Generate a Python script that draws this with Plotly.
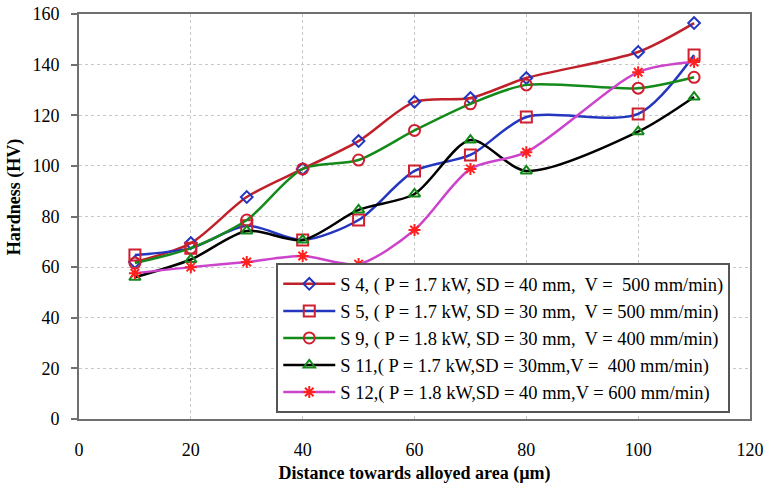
import plotly.graph_objects as go

distance = [10, 20, 30, 40, 50, 60, 70, 80, 100, 110]
s4 = [62, 69.5, 87.7, 98.8, 109.8, 125.3, 126.8, 134.7, 145, 156.4]
s5 = [64.8, 67.5, 76.3, 70.7, 78.6, 98, 104.3, 119.3, 120.5, 143.8]
s9 = [61.6, 67.5, 78.6, 98.8, 102.3, 114, 124.5, 132, 130.7, 135]
s11 = [56, 63, 74.3, 70.7, 82.6, 88.9, 110.2, 98, 113.5, 127.2]
s12 = [57.6, 60, 62, 64.4, 61.2, 74.7, 98.8, 105.4, 137, 141]

names = [
    "S 4, ( P = 1.7 kW, SD = 40 mm,  V =  500 mm/min)",
    "S 5, ( P = 1.7 kW, SD = 30 mm,  V = 500 mm/min)",
    "S 9, ( P = 1.8 kW, SD = 30 mm,  V = 400 mm/min)",
    "S 11,( P = 1.7 kW,SD = 30mm,V =  400 mm/min)",
    "S 12,( P = 1.8 kW,SD = 40 mm,V = 600 mm/min)",
]

series = [s4, s5, s9, s11, s12]
line_colors = ["#C0202A", "#2436C0", "#138A1A", "#000000", "#CC44CC"]
marker_colors = ["#2436C0", "#D02030", "#D02030", "#138A1A", "#FF2020"]
symbols = ["diamond-open", "square-open", "circle-open", "triangle-up-open", "asterisk-open"]
sizes = [9, 11, 11, 10, 10]

fig = go.Figure()
for ys, nm, lc, mc, sym, sz in zip(series, names, line_colors, marker_colors, symbols, sizes):
    fig.add_trace(go.Scatter(
        x=distance, y=ys, name=nm, mode="lines+markers",
        line=dict(color=lc, width=2.5, shape="spline", smoothing=0.8),
        marker=dict(symbol=sym, size=sz, color=mc, line=dict(color=mc, width=2)),
    ))

lib = "Liberation Serif"
fig.update_layout(
    width=769, height=490,
    margin=dict(l=79, r=19, t=14, b=71, autoexpand=False),
    paper_bgcolor="white", plot_bgcolor="white",
    font=dict(family=lib, size=18, color="black"),
    showlegend=True,
    legend=dict(
        x=0.294, y=0.014, xanchor="left", yanchor="bottom",
        bgcolor="white", bordercolor="#555555", borderwidth=2,
        font=dict(family=lib, size=18.5),
        tracegroupgap=0, itemwidth=52,
    ),
    xaxis=dict(
        range=[0, 120], tickvals=[0, 20, 40, 60, 80, 100, 120],
        showgrid=True, gridcolor="#C8C8C8", griddash="dot",
        showline=True, linecolor="#707070", linewidth=2, mirror=True,
        zeroline=False, ticks="", ticklabelstandoff=13,
        tickfont=dict(family=lib, size=18),
        automargin=False,
        title=dict(text="<b>Distance towards alloyed area (µm)</b>", standoff=8,
                   font=dict(family=lib, size=18)),
    ),
    yaxis=dict(
        range=[0, 160], tickvals=[0, 20, 40, 60, 80, 100, 120, 140, 160],
        showgrid=True, gridcolor="#C8C8C8", griddash="dot",
        showline=True, linecolor="#707070", linewidth=2, mirror=True,
        zeroline=False, ticks="outside", ticklen=6, tickcolor="#707070", tickwidth=1.5,
        ticklabelstandoff=8, automargin=False,
        tickfont=dict(family=lib, size=18),
    ),
    annotations=[dict(
        text="<b>Hardness (HV)</b>", textangle=-90,
        xref="paper", yref="paper", x=-0.097, y=0.55,
        xanchor="center", yanchor="middle", showarrow=False,
        font=dict(family=lib, size=18),
    )],
)

fig.write_html("out.html")
